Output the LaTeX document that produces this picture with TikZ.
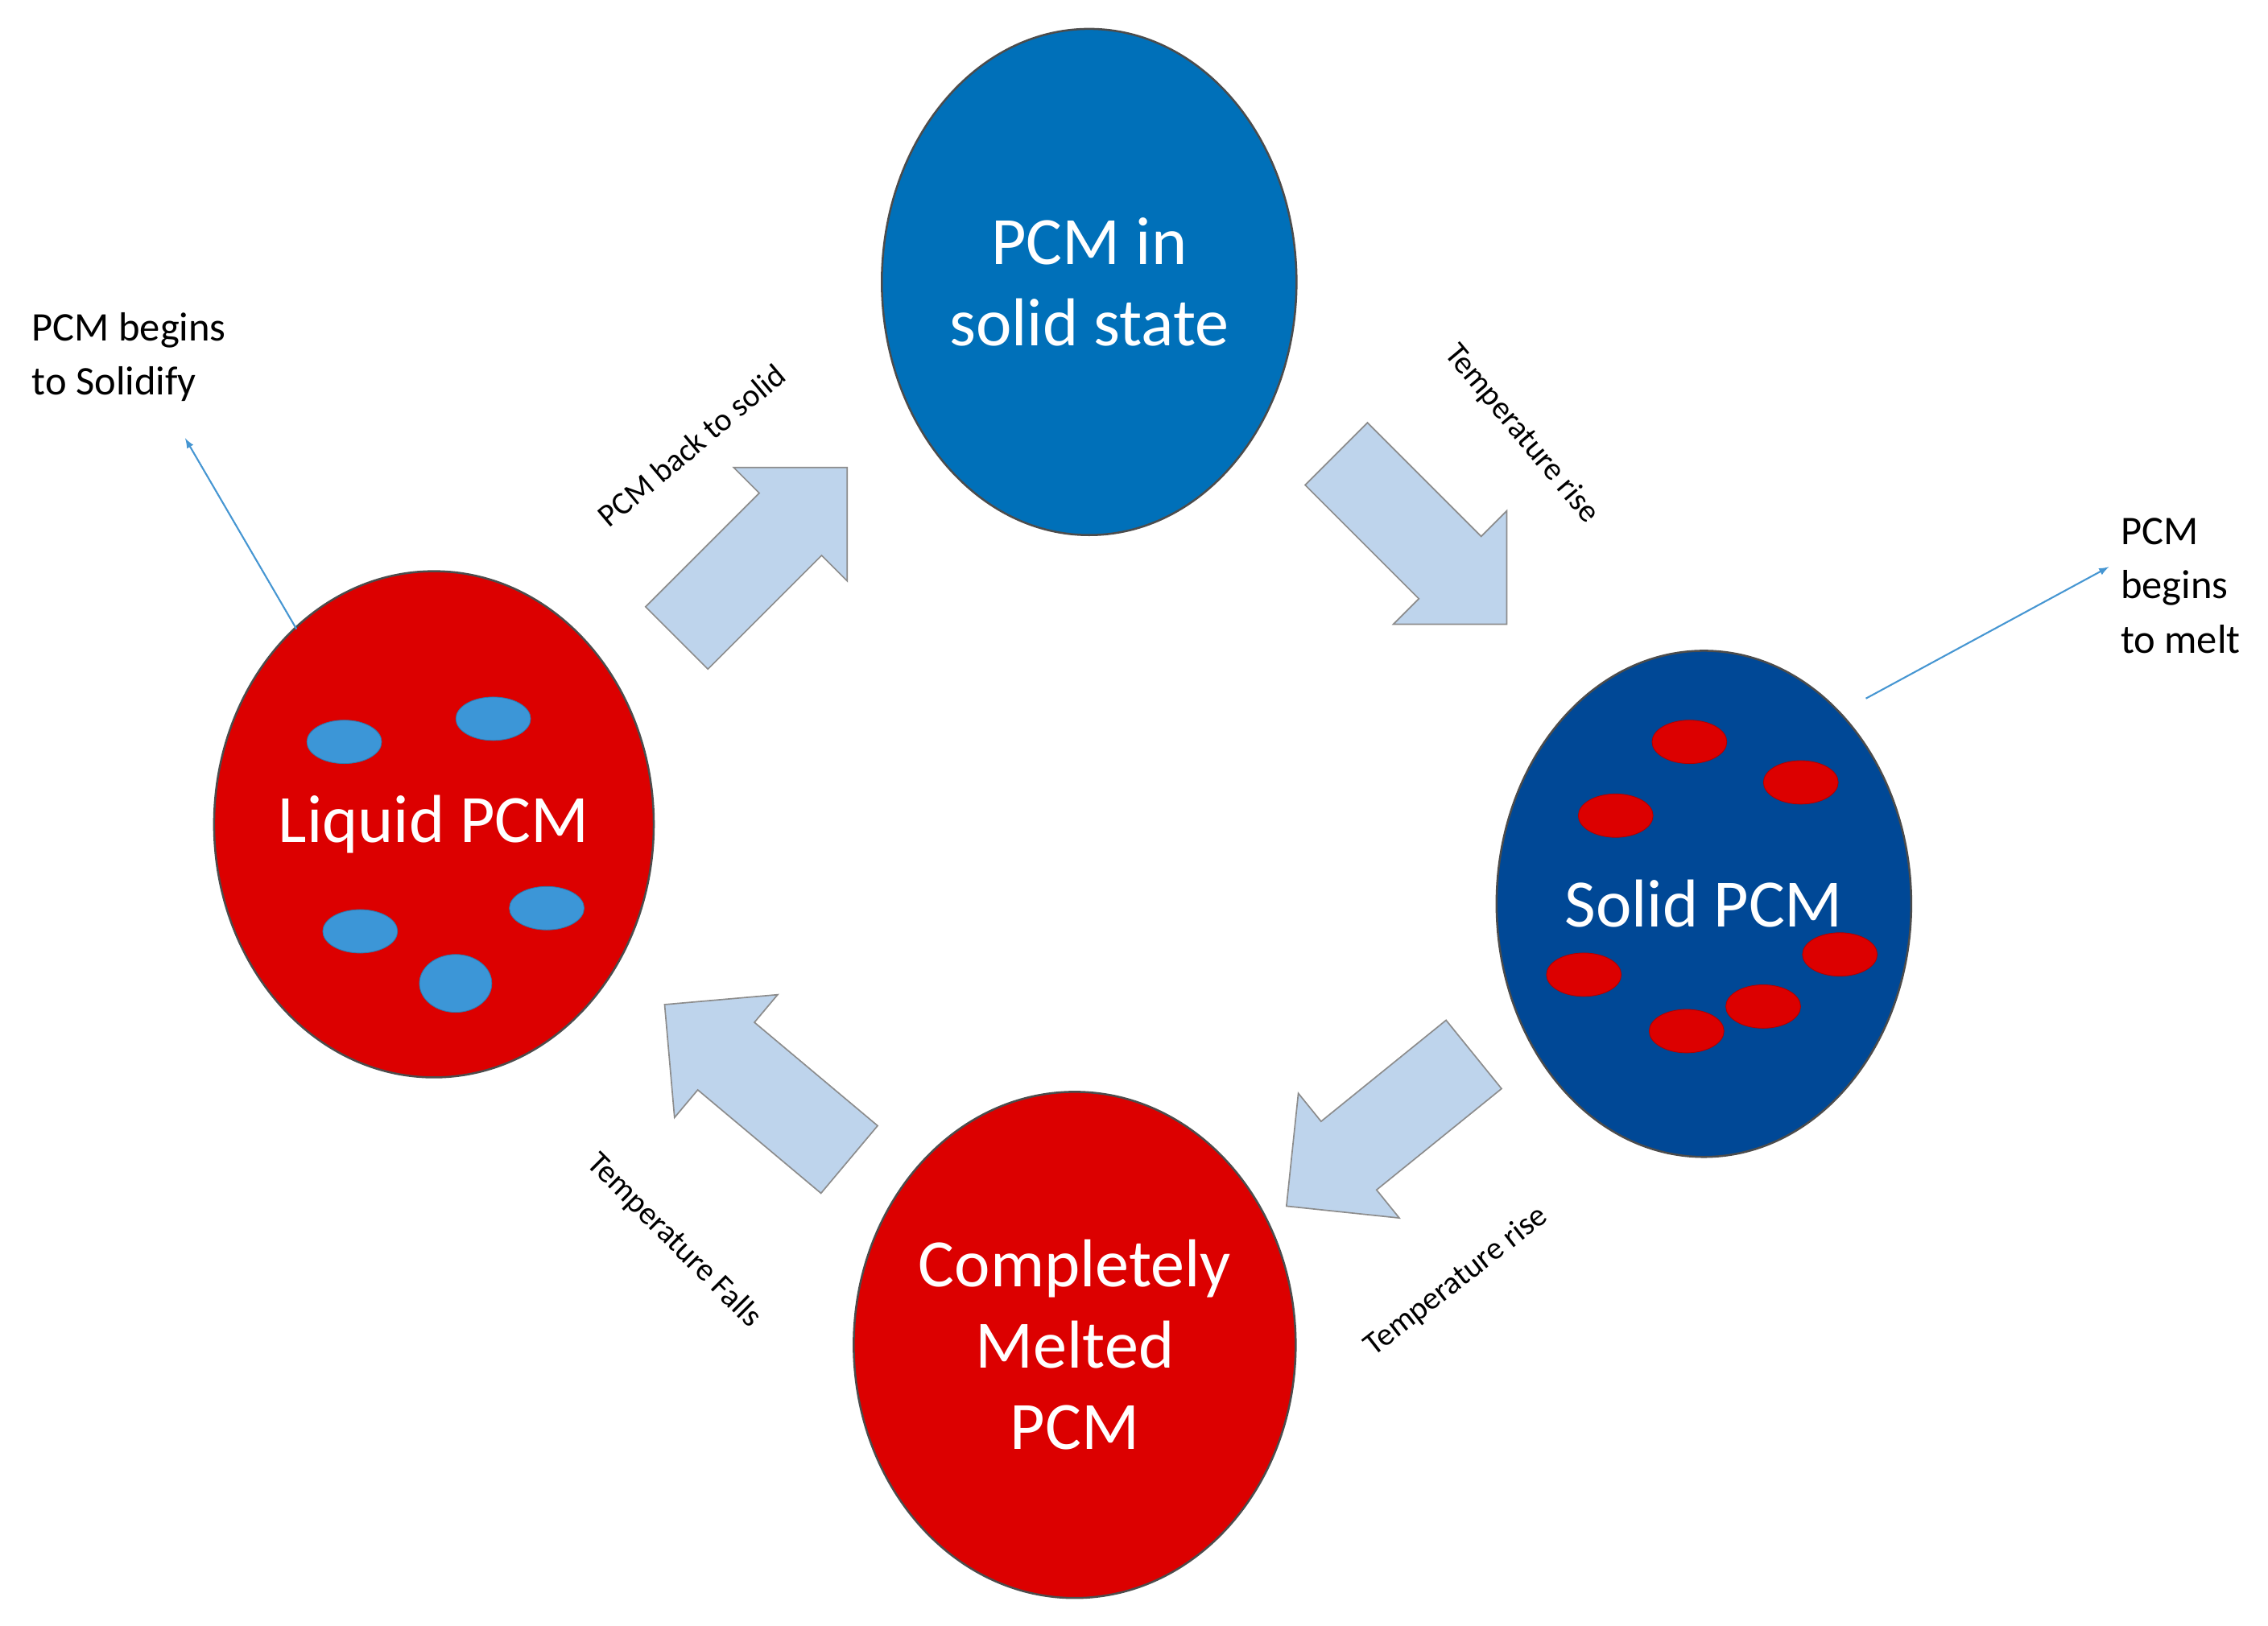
\documentclass[tikz,border=0pt]{standalone}
\usepackage{fontspec}
\setmainfont{Carlito}
\usetikzlibrary{shapes.geometric,shapes.arrows}
\definecolor{cblue}{RGB}{0,112,185}
\definecolor{dblue}{RGB}{0,72,150}
\definecolor{cred}{RGB}{220,0,0}
\definecolor{dot}{RGB}{60,150,215}
\definecolor{arr}{RGB}{190,212,236}
\definecolor{thin}{RGB}{70,150,210}
\begin{document}
\begin{tikzpicture}[x=0.03cm,y=-0.03cm,
 big/.style={ellipse,draw=black!70,line width=1.2pt,minimum width=8.6cm,minimum height=10.5cm,inner sep=0,text=white,align=center,font=\fontsize{40}{48}\selectfont},
 bl/.style={ellipse,fill=dot,draw=dot!80!black,minimum width=1.55cm,minimum height=0.9cm,inner sep=0},
 rd/.style={ellipse,fill=cred,draw=cred!80!black,minimum width=1.55cm,minimum height=0.9cm,inner sep=0},
 blk/.style={single arrow,fill=arr,draw=black!45,line width=0.8pt,minimum height=5.0cm,inner xsep=0pt,inner ysep=0.9cm,single arrow head extend=0.75cm,text width=0pt,text height=0pt,text depth=0pt},
 lab/.style={font=\fontsize{19}{23}\selectfont},
 side/.style={font=\fontsize{24}{32}\selectfont,align=left,anchor=west},
 thinarr/.style={draw=thin,line width=1pt,-latex}]
\useasboundingbox (0,0) rectangle (1568,1124);
\node[big,fill=cblue] (top) at (753,195) {PCM in\\solid state};
\node[big,fill=cred] (left) at (300,570) {Liquid PCM};
\node[big,fill=dblue] (right) at (1178,625) {Solid PCM};
\node[big,fill=cred] (bot) at (743,930) {Completely\\Melted\\PCM};
\node[bl] (b1) at (238,513) {};
\node[bl] (b2) at (341,497) {};
\node[bl] (b3) at (249,644) {};
\node[bl] (b4) at (378,628) {};
\node[bl,minimum width=1.5cm,minimum height=1.2cm] (b5) at (315,680) {};
\node[rd] (r1) at (1168,513) {};
\node[rd] (r2) at (1245,541) {};
\node[rd] (r3) at (1117,564) {};
\node[rd] (r4) at (1272,660) {};
\node[rd] (r5) at (1095,674) {};
\node[rd] (r6) at (1219,696) {};
\node[rd] (r7) at (1166,713) {};
\node[blk,rotate=45] (a1) at (516,393) {};
\node[blk,rotate=-45] (a2) at (972,362) {};
\node[blk,rotate=219] (a3) at (966,772) {};
\node[blk,rotate=140] (a4) at (535,758) {};
\node[lab,rotate=40] (l1) at (478,308) {PCM back to solid};
\node[lab,rotate=-50] (l2) at (1052,300) {Temperature rise};
\node[lab,rotate=38] (l3) at (1007,886) {Temperature rise};
\node[lab,rotate=-45] (l4) at (466,858) {Temperature Falls};
\coordinate (s0) at (205,435);
\coordinate (s1) at (128,303);
\coordinate (m0) at (1290,483);
\coordinate (m1) at (1458,392);
\draw[thinarr] (s0) -- (s1);
\draw[thinarr] (m0) -- (m1);
\node[side] (t1) at (18,247) {PCM begins\\to Solidify};
\node[side] (t2) at (1462,405) {PCM\\begins\\to melt};
\end{tikzpicture}
\end{document}
